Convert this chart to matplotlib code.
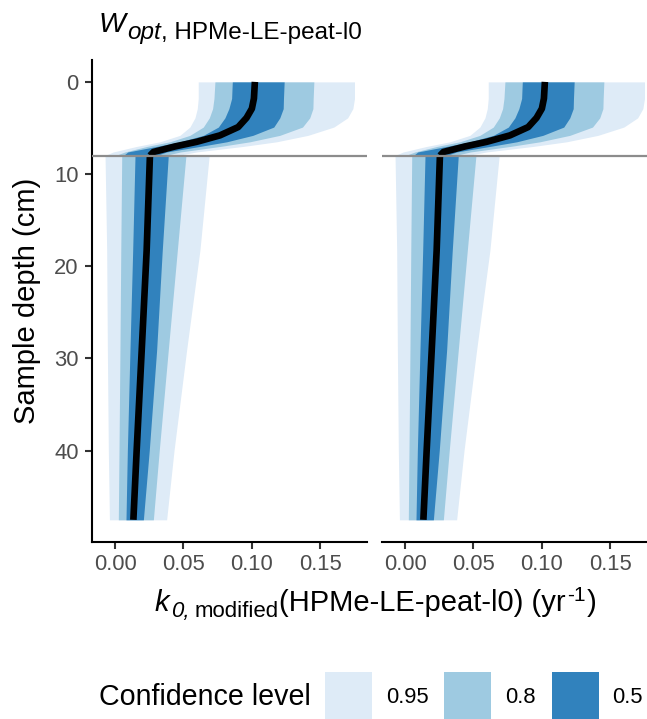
import matplotlib
matplotlib.use("Agg")
import matplotlib.pyplot as plt
from matplotlib.patches import Rectangle

plt.rcParams['font.family'] = ['Liberation Sans', 'DejaVu Sans']

W_PX, H_PX, DPI = 647, 719, 100

# ---- profile of k0 with depth: upper layer (0 - 8 cm) ----
depth_upper = [0.0, 1.8, 2.9, 3.9, 4.9, 5.8, 6.5, 7.0, 7.6, 8.0]
up_lo95 = [0.0608, 0.0608, 0.0601, 0.0584, 0.0547, 0.0474, 0.0328, 0.0158, -0.0013, -0.0077]
up_lo80 = [0.0730, 0.0723, 0.0713, 0.0689, 0.0645, 0.0547, 0.0400, 0.0233, 0.0073, 0.0000]
up_lo50 = [0.0857, 0.0852, 0.0832, 0.0803, 0.0755, 0.0645, 0.0474, 0.0304, 0.0093, 0.0060]
up_median = [0.1022, 0.1015, 0.1000, 0.0961, 0.0900, 0.0767, 0.0597, 0.0439, 0.0281, 0.0255]
up_hi50 = [0.1236, 0.1231, 0.1229, 0.1204, 0.1160, 0.1007, 0.0816, 0.0620, 0.0377, 0.0300]
up_hi80 = [0.1453, 0.1448, 0.1446, 0.1423, 0.1370, 0.1204, 0.0985, 0.0769, 0.0478, 0.0360]
up_hi95 = [0.1750, 0.1750, 0.1738, 0.1700, 0.1599, 0.1410, 0.1180, 0.0937, 0.0596, 0.0450]

# ---- lower layer (8 - 47.5 cm) ----
depth_lower = [8.0, 18.3, 29.1, 40.0, 47.5]
lo_lo95 = [-0.0073, -0.0061, -0.0056, -0.0049, -0.0041]
lo_lo80 = [0.0049, 0.0042, 0.0036, 0.0029, 0.0024]
lo_lo50 = [0.0146, 0.0129, 0.0109, 0.0090, 0.0080]
lo_median = [0.0255, 0.0231, 0.0195, 0.0158, 0.0134]
lo_hi50 = [0.0389, 0.0345, 0.0304, 0.0250, 0.0207]
lo_hi80 = [0.0518, 0.0455, 0.0389, 0.0323, 0.0280]
lo_hi95 = [0.0688, 0.0620, 0.0523, 0.0431, 0.0377]

layer_boundary = 8.0

x_ticks = [0.00, 0.05, 0.10, 0.15]
x_tick_labels = ["0.00", "0.05", "0.10", "0.15"]
y_ticks = [0, 10, 20, 30, 40]

levels = ["0.95", "0.8", "0.5"]
level_colors = ["#deebf7", "#9ecae1", "#3182bd"]

upper_bands = [(up_lo95, up_hi95), (up_lo80, up_hi80), (up_lo50, up_hi50)]
lower_bands = [(lo_lo95, lo_hi95), (lo_lo80, lo_hi80), (lo_lo50, lo_hi50)]

fig = plt.figure(figsize=(W_PX / DPI, H_PX / DPI), dpi=DPI)


def px_rect(x0, y0, x1, y1):
    return [x0 / W_PX, 1 - y1 / H_PX, (x1 - x0) / W_PX, (y1 - y0) / H_PX]


ax_left = fig.add_axes(px_rect(92, 60, 367, 541.7))
ax_right = fig.add_axes(px_rect(382, 60, 657, 541.7))

# scale limits with 5% expansion on each side
xmin = min(min(up_lo95), min(lo_lo95))
xmax = max(max(up_hi95), max(lo_hi95))
xpad = 0.05 * (xmax - xmin)
dmin = min(depth_upper)
dmax = max(depth_lower)
dpad = 0.05 * (dmax - dmin)

for ax in (ax_left, ax_right):
    for (lo, hi), col in zip(upper_bands, level_colors):
        ax.fill_betweenx(depth_upper, lo, hi, color=col, lw=0)
    for (lo, hi), col in zip(lower_bands, level_colors):
        ax.fill_betweenx(depth_lower, lo, hi, color=col, lw=0)
    ax.plot(up_median, depth_upper, color="black", lw=4.8, solid_capstyle="butt",
            solid_joinstyle="round", zorder=3)
    ax.plot(lo_median, depth_lower, color="black", lw=4.8, solid_capstyle="butt",
            solid_joinstyle="round", zorder=3)
    ax.axhline(layer_boundary, color="#8c8c8c", lw=1.6, zorder=4)

    ax.set_xlim(xmin - xpad, xmax + xpad)
    ax.set_ylim(dmax + dpad, dmin - dpad)
    ax.set_xticks(x_ticks)
    ax.set_xticklabels(x_tick_labels)
    ax.set_yticks(y_ticks)
    for side in ("top", "right"):
        ax.spines[side].set_visible(False)
    for side in ("left", "bottom"):
        ax.spines[side].set_linewidth(1.5)
        ax.spines[side].set_color("black")
    ax.tick_params(axis="both", length=5, width=1.5, color="#333333",
                   labelcolor="#4d4d4d", labelsize=15.8)
    ax.tick_params(axis="x", pad=3.6)
    ax.tick_params(axis="y", pad=4.5)
    ax.set_facecolor("none")

ax_right.spines["left"].set_visible(False)
ax_right.tick_params(axis="y", left=False, labelleft=False)

renderer = fig.canvas.get_renderer()


def rich_text(x_px, base_px, pieces):
    """Lay out text pieces left to right; each piece is
    (text, size, style, baseline shift in px, extra gap after in px)."""
    x = x_px
    for s, size, style, dy, gap in pieces:
        t = fig.text(x / W_PX, 1 - (base_px + dy) / H_PX, s, fontsize=size,
                     style=style, ha="left", va="baseline", color="black")
        x += t.get_window_extent(renderer=renderer).width + gap
    return x


# title
rich_text(99, 32, [
    ("W", 20.5, "italic", 0, 1),
    ("opt", 17.5, "italic", 7.5, 0),
    (", HPMe-LE-peat-l0", 17.5, "normal", 7.5, 0),
])

# x axis title
rich_text(155, 611, [
    ("k", 21, "italic", 0, 1),
    ("0,", 16, "italic", 6, 5),
    ("modified", 16, "normal", 6, 1),
    ("(HPMe-LE-peat-l0) (yr", 21, "normal", 0, 1),
    ("-1", 15, "normal", -10, 1),
    (")", 21, "normal", 0, 0),
])

# y axis title
fig.text(27 / W_PX, 1 - 300.9 / H_PX, "Sample depth (cm)", rotation=90,
         fontsize=21, ha="center", va="center", color="black")

# legend
fig.text(99 / W_PX, 1 - 705 / H_PX, "Confidence level", fontsize=20.6,
         ha="left", va="baseline", color="black")
key_x = [325, 444, 552]
label_x = [386, 505, 612]
for kx, lx, lab, col in zip(key_x, label_x, levels, level_colors):
    fig.add_artist(Rectangle((kx / W_PX, 1 - 719 / H_PX), 47 / W_PX, 47 / H_PX,
                             transform=fig.transFigure, facecolor=col, lw=0))
    fig.text(lx / W_PX, 1 - 703 / H_PX, lab, fontsize=15.8, ha="left",
             va="baseline", color="black")

fig.savefig("out.png", dpi=DPI)
